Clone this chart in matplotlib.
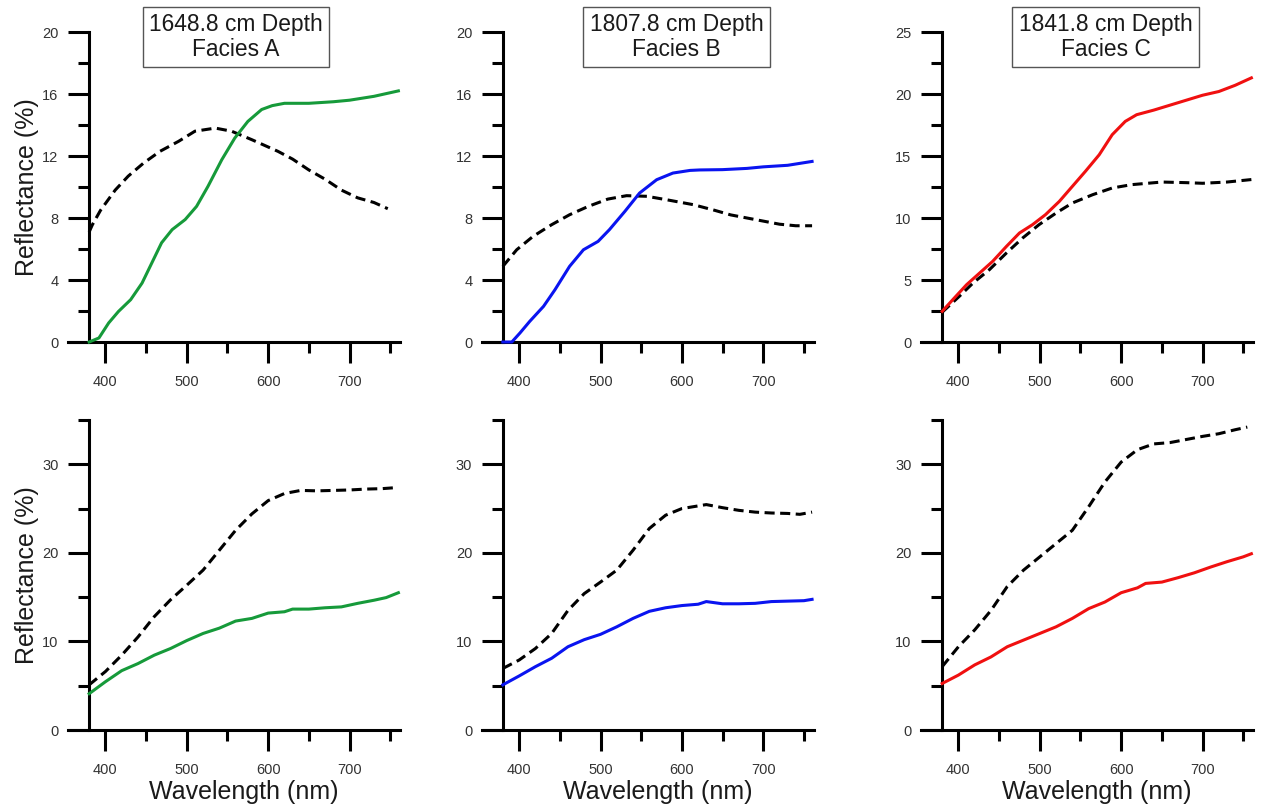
import matplotlib
matplotlib.use("Agg")
import matplotlib.pyplot as plt
from matplotlib.ticker import MultipleLocator
from matplotlib.transforms import blended_transform_factory

plt.rcParams['font.family'] = ['Liberation Sans', 'DejaVu Sans']

# ---- Facies A, 1648.8 cm (top: solid, dashed; bottom: solid, dashed) ----
wl_a_top = [380, 392, 404, 416, 431, 445, 457, 469, 482, 498, 512, 526, 543, 559, 575, 592, 605, 620, 650, 680, 700, 730, 760]
refl_a_top = [0.0, 0.26, 1.23, 1.97, 2.73, 3.8, 5.1, 6.4, 7.25, 7.9, 8.75, 10.04, 11.76, 13.16, 14.23, 15.0, 15.25, 15.4, 15.4, 15.5, 15.6, 15.85, 16.2]
wl_a_top_ref = [380, 384, 394, 412, 428, 447, 467, 490, 510, 535, 555, 580, 612, 630, 650, 670, 690, 710, 730, 747]
refl_a_top_ref = [7.1, 7.57, 8.5, 9.8, 10.7, 11.55, 12.3, 12.95, 13.6, 13.8, 13.6, 13.05, 12.3, 11.8, 11.1, 10.5, 9.8, 9.3, 9.0, 8.6]

wl_a_bot = [380, 400, 420, 440, 460, 480, 500, 520, 540, 560, 580, 600, 620, 630, 650, 670, 690, 710, 730, 745, 760]
refl_a_bot = [4.1, 5.45, 6.7, 7.5, 8.45, 9.2, 10.1, 10.9, 11.5, 12.3, 12.6, 13.2, 13.35, 13.65, 13.65, 13.8, 13.9, 14.3, 14.65, 14.95, 15.5]
wl_a_bot_ref = [380, 400, 420, 440, 460, 480, 500, 520, 540, 560, 580, 600, 620, 640, 660, 680, 700, 720, 740, 755]
refl_a_bot_ref = [5.1, 6.6, 8.45, 10.5, 12.8, 14.7, 16.35, 18.05, 20.3, 22.55, 24.4, 25.9, 26.7, 27.05, 27.0, 27.05, 27.1, 27.2, 27.25, 27.35]

# ---- Facies B, 1807.8 cm ----
wl_b_top = [380, 391, 401, 413, 430, 444, 462, 479, 497, 511, 530, 548, 569, 589, 610, 622, 650, 680, 700, 730, 760]
refl_b_top = [0.0, 0.0, 0.58, 1.33, 2.3, 3.37, 4.88, 5.95, 6.49, 7.25, 8.43, 9.61, 10.47, 10.9, 11.07, 11.1, 11.12, 11.2, 11.3, 11.4, 11.65]
wl_b_top_ref = [380, 397, 417, 440, 462, 485, 509, 532, 557, 581, 614, 640, 660, 680, 700, 720, 740, 760]
refl_b_top_ref = [4.88, 5.95, 6.81, 7.57, 8.21, 8.75, 9.22, 9.44, 9.4, 9.18, 8.86, 8.5, 8.2, 8.0, 7.8, 7.6, 7.5, 7.5]

wl_b_bot = [380, 400, 420, 440, 460, 480, 500, 520, 540, 560, 580, 600, 620, 630, 650, 670, 690, 710, 730, 750, 760]
refl_b_bot = [5.1, 6.1, 7.15, 8.1, 9.4, 10.2, 10.8, 11.65, 12.6, 13.4, 13.8, 14.05, 14.2, 14.5, 14.25, 14.25, 14.3, 14.5, 14.55, 14.6, 14.75]
wl_b_bot_ref = [380, 400, 420, 440, 460, 480, 500, 520, 540, 560, 580, 600, 620, 630, 650, 670, 690, 710, 730, 745, 760]
refl_b_bot_ref = [6.95, 7.9, 9.2, 10.9, 13.5, 15.4, 16.7, 18.05, 20.3, 22.75, 24.25, 25.0, 25.3, 25.45, 25.1, 24.8, 24.6, 24.5, 24.45, 24.35, 24.6]

# ---- Facies C, 1841.8 cm ----
wl_c_top = [380, 393, 410, 426, 442, 459, 475, 491, 507, 524, 540, 556, 573, 589, 605, 619, 640, 660, 680, 700, 720, 740, 760]
refl_c_top = [2.47, 3.41, 4.62, 5.56, 6.5, 7.71, 8.79, 9.46, 10.27, 11.34, 12.55, 13.76, 15.1, 16.72, 17.79, 18.33, 18.7, 19.1, 19.5, 19.9, 20.2, 20.7, 21.3]
wl_c_top_ref = [380, 401, 418, 438, 459, 479, 499, 520, 540, 565, 589, 613, 650, 680, 700, 730, 760]
refl_c_top_ref = [2.4, 3.68, 4.76, 5.83, 7.18, 8.39, 9.46, 10.4, 11.21, 11.88, 12.42, 12.69, 12.9, 12.85, 12.8, 12.9, 13.1]

wl_c_bot = [380, 400, 420, 440, 460, 480, 500, 520, 540, 560, 580, 600, 620, 630, 650, 670, 690, 710, 730, 750, 760]
refl_c_bot = [5.25, 6.2, 7.35, 8.25, 9.4, 10.15, 10.9, 11.65, 12.6, 13.7, 14.45, 15.5, 16.05, 16.55, 16.7, 17.2, 17.75, 18.4, 19.0, 19.55, 19.9]
wl_c_bot_ref = [380, 400, 420, 440, 460, 480, 500, 520, 540, 560, 580, 600, 620, 640, 660, 680, 700, 720, 740, 755]
refl_c_bot_ref = [7.15, 9.4, 11.3, 13.5, 16.2, 18.05, 19.55, 21.05, 22.55, 25.2, 28.0, 30.25, 31.65, 32.3, 32.45, 32.8, 33.15, 33.45, 33.9, 34.2]

titles = ["1648.8 cm Depth\nFacies A", "1807.8 cm Depth\nFacies B", "1841.8 cm Depth\nFacies C"]
colors = ["#169a3a", "#0a14f0", "#f01010"]
top_ylim = [(0, 20, 4, 2), (0, 20, 4, 2), (0, 25, 5, 2.5)]
bottom_ylim = (0, 35, 10, 5)

top_series = [
    (wl_a_top, refl_a_top, wl_a_top_ref, refl_a_top_ref),
    (wl_b_top, refl_b_top, wl_b_top_ref, refl_b_top_ref),
    (wl_c_top, refl_c_top, wl_c_top_ref, refl_c_top_ref),
]
bottom_series = [
    (wl_a_bot, refl_a_bot, wl_a_bot_ref, refl_a_bot_ref),
    (wl_b_bot, refl_b_bot, wl_b_bot_ref, refl_b_bot_ref),
    (wl_c_bot, refl_c_bot, wl_c_bot_ref, refl_c_bot_ref),
]

W, H = 1264, 810
fig = plt.figure(figsize=(W / 100, H / 100), dpi=100)

lefts_px = [68, 481.7, 921]
width_px = 332
rows = [(342, 32), (730, 420)]   # (bottom px, top px)
title_centers_px = [236, 676.5, 1105.5]

LW = 2.2
TICK_COLOR = "#333333"


def style_axes(ax, ymin, ymax, major, minor):
    ax.set_xlim(354, 762)
    ax.set_ylim(ymin, ymax)
    for side in ("top", "right"):
        ax.spines[side].set_visible(False)
    ax.spines["left"].set_position(("data", 380))
    ax.spines["left"].set_linewidth(LW)
    ax.spines["bottom"].set_linewidth(LW)
    ax.yaxis.set_major_locator(MultipleLocator(major))
    ax.yaxis.set_minor_locator(MultipleLocator(minor))
    ax.set_xticks([400, 500, 600, 700])
    ax.set_xticks([450, 550, 650, 750], minor=True)
    ax.tick_params(which="major", direction="out", length=15, width=LW,
                   labelsize=10.5, labelcolor=TICK_COLOR)
    ax.tick_params(which="minor", direction="out", length=8, width=LW)
    ax.tick_params(axis="x", which="major", pad=9)
    ax.tick_params(axis="y", which="major", pad=7)
    ax.patch.set_alpha(0)


for row_idx, (series, (bpx, tpx)) in enumerate(zip([top_series, bottom_series], rows)):
    for col in range(3):
        rect = [lefts_px[col] / W, 1 - bpx / H, width_px / W, (bpx - tpx) / H]
        ax = fig.add_axes(rect)
        if row_idx == 0:
            ymin, ymax, major, minor = top_ylim[col]
        else:
            ymin, ymax, major, minor = bottom_ylim
        style_axes(ax, ymin, ymax, major, minor)
        wl, refl, wl_ref, refl_ref = series[col]
        ax.plot(wl_ref, refl_ref, color="black", lw=LW, dashes=(3.3, 1.8),
                solid_capstyle="butt", clip_on=False, zorder=3)
        ax.plot(wl, refl, color=colors[col], lw=LW, clip_on=False, zorder=4,
                solid_joinstyle="round")

        if col == 0:
            ycen = 1 - (bpx + tpx) / 2 / H
            fig.text(27 / W, ycen, "Reflectance (%)", rotation=90,
                     ha="center", va="center", fontsize=18, color="#1a1a1a")
        if row_idx == 1:
            tr = blended_transform_factory(ax.transData, fig.transFigure)
            ax.text(570, 1 - 792 / H, "Wavelength (nm)", transform=tr,
                    ha="center", va="center", fontsize=18, color="#1a1a1a")
        else:
            fig.text(title_centers_px[col] / W, 1 - 37 / H, titles[col],
                     ha="center", va="center", fontsize=16.4, color="#1a1a1a",
                     linespacing=1.1,
                     bbox=dict(boxstyle="square,pad=0.28", facecolor="white",
                               edgecolor="#555555", linewidth=1.0))

fig.savefig("out.png", dpi=100)
